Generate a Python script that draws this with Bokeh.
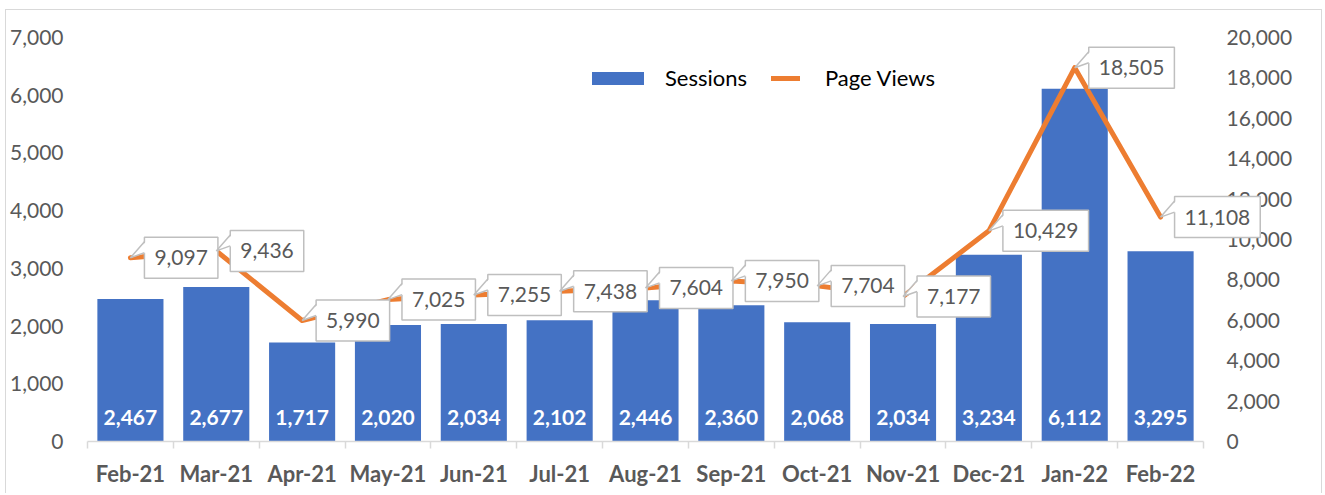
from bokeh.plotting import figure
from bokeh.models import (Range1d, LinearAxis, FixedTicker, NumeralTickFormatter,
                          Label, LabelSet, Legend, LegendItem, ColumnDataSource)
from bokeh.core.properties import value
from bokeh.embed import file_html
from bokeh.resources import INLINE

months = ["Feb-21", "Mar-21", "Apr-21", "May-21", "Jun-21", "Jul-21", "Aug-21",
          "Sep-21", "Oct-21", "Nov-21", "Dec-21", "Jan-22", "Feb-22"]
sessions = [2467, 2677, 1717, 2020, 2034, 2102, 2446, 2360, 2068, 2034, 3234, 6112, 3295]
page_views = [9097, 9436, 5990, 7025, 7255, 7438, 7604, 7950, 7704, 7177, 10429, 18505, 11108]
left_ticks = [0, 1000, 2000, 3000, 4000, 5000, 6000, 7000]
right_ticks = [0, 2000, 4000, 6000, 8000, 10000, 12000, 14000, 16000, 18000, 20000]

FONT = "Lato"
GREY = "#595959"
BOX = "#BFBFBF"

# canvas geometry (canvas placed at page (6,10) by css margin + border)
W, H = 1317, 484
X0, X1 = 81, 1197          # category area on canvas
Y_TOP, Y_BASE = 27, 431    # top / zero line on canvas

n = len(months)
ppx = (X1 - X0) / n
x_start = -0.5 - X0 / ppx
x_end = n - 0.5 + (W - X1) / ppx
lmax = left_ticks[-1]
rmax = right_ticks[-1]
ppl = (Y_BASE - Y_TOP) / lmax
ppr = (Y_BASE - Y_TOP) / rmax

xs = list(range(n))
src = ColumnDataSource(dict(
    x=xs, s=sessions, pv=page_views,
    s_text=[f"{v:,}" for v in sessions],
))

p = figure(width=W, height=H, x_range=Range1d(x_start, x_end),
           y_range=Range1d(-(H - Y_BASE) / ppl, lmax + Y_TOP / ppl),
           output_backend="svg", toolbar_location=None,
           min_border_left=0, min_border_right=0, min_border_top=0, min_border_bottom=0)
p.extra_y_ranges = {"pv": Range1d(-(H - Y_BASE) / ppr, rmax + Y_TOP / ppr)}
p.outline_line_color = None
p.xgrid.visible = False
p.ygrid.visible = False
p.styles = {"margin-left": "5px", "margin-top": "9px",
            "border-top": "1px solid #D9D9D9", "border-left": "1px solid #D9D9D9",
            "border-right": "1px solid #D9D9D9"}

# bottom axis
xa = p.xaxis[0]
xa.fixed_location = 0
xa.bounds = (-0.5, n - 0.5)
xa.ticker = FixedTicker(ticks=xs, minor_ticks=[i - 0.5 for i in range(n + 1)])
xa.major_label_overrides = {i: m for i, m in enumerate(months)}
xa.axis_line_color = "#D9D9D9"
xa.axis_line_width = 1.5
xa.major_tick_line_color = None
xa.major_tick_out = 0
xa.major_tick_in = 0
xa.minor_tick_line_color = "#D9D9D9"
xa.minor_tick_line_width = 1.5
xa.minor_tick_out = 7
xa.minor_tick_in = 0
xa.major_label_text_font = FONT
xa.major_label_text_font_style = "bold"
xa.major_label_text_font_size = "22px"
xa.major_label_text_color = GREY
xa.major_label_standoff = 11

# left axis
ya = p.yaxis[0]
ya.fixed_location = -0.5
ya.ticker = FixedTicker(ticks=left_ticks)
ya.formatter = NumeralTickFormatter(format="0,0")
ya.axis_line_color = None
ya.major_tick_line_color = None
ya.minor_tick_line_color = None
ya.major_tick_out = 0
ya.major_label_text_font = FONT
ya.major_label_text_font_size = "21px"
ya.major_label_text_color = GREY
ya.major_label_standoff = 24

# right axis
ra = LinearAxis(y_range_name="pv", ticker=FixedTicker(ticks=right_ticks),
                formatter=NumeralTickFormatter(format="0,0"), fixed_location=n - 0.5)
ra.axis_line_color = None
ra.major_tick_line_color = None
ra.minor_tick_line_color = None
ra.major_tick_out = 0
ra.major_label_text_font = FONT
ra.major_label_text_font_size = "21px"
ra.major_label_text_color = GREY
ra.major_label_standoff = 23
p.add_layout(ra, "right")

# bars
r_bar = p.vbar(x="x", top="s", width=0.77, source=src, fill_color="#4472C4",
               line_color=None)

# line
r_line = p.line(x="x", y="pv", source=src, y_range_name="pv", line_color="#ED7D31",
                line_width=5, line_cap="round", line_join="round")

# callout labels
for i, v in zip(xs, page_views):
    p.add_layout(Label(x=i, y=v, y_range_name="pv", text=f"{v:,}", x_offset=14,
                       anchor="center_left", padding=(10, 13),
                       background_fill_color="white", border_line_color=BOX,
                       border_line_width=1.5, text_color=GREY, text_font=FONT,
                       text_font_size="21px"))

# callout tails drawn over the boxes (pixel offsets converted through the fixed scales)
fill_xs, fill_ys, side_xs, side_ys = [], [], [], []
for i, v in zip(xs, page_views):
    xe = i + 14 / ppx
    fill_xs.append([i, xe + 1.5 / ppx, xe + 1.5 / ppx])
    fill_ys.append([v, v + 16 / ppr, v + 5 / ppr])
    side_xs.append([xe, i, xe])
    side_ys.append([v + 16 / ppr, v, v + 5 / ppr])
p.patches(fill_xs, fill_ys, y_range_name="pv", fill_color="white", line_color=None,
          level="overlay")
p.multi_line(side_xs, side_ys, y_range_name="pv", line_color=BOX, line_width=1.5,
             level="overlay")

# bar labels
p.add_layout(LabelSet(x="x", y=0, text="s_text", source=src, y_offset=17,
                      text_align="center", text_baseline="alphabetic",
                      text_color="white", text_font=value(FONT),
                      text_font_style="bold", text_font_size="21px"))

# legends
common = dict(orientation="horizontal", glyph_height=16, padding=0, margin=0,
              border_line_color=None, background_fill_alpha=0,
              label_text_font=FONT, label_text_font_size="22px",
              label_text_color="black", spacing=0)
leg1 = Legend(items=[LegendItem(label="Sessions", renderers=[r_bar])],
              location=(579, 403), glyph_width=65, label_standoff=15, **common)
leg2 = Legend(items=[LegendItem(label="Page Views", renderers=[r_line])],
              location=(765, 403), glyph_width=29, label_standoff=25, **common)
p.add_layout(leg1)
p.add_layout(leg2)

open("out.html", "w").write(file_html(p, INLINE))
